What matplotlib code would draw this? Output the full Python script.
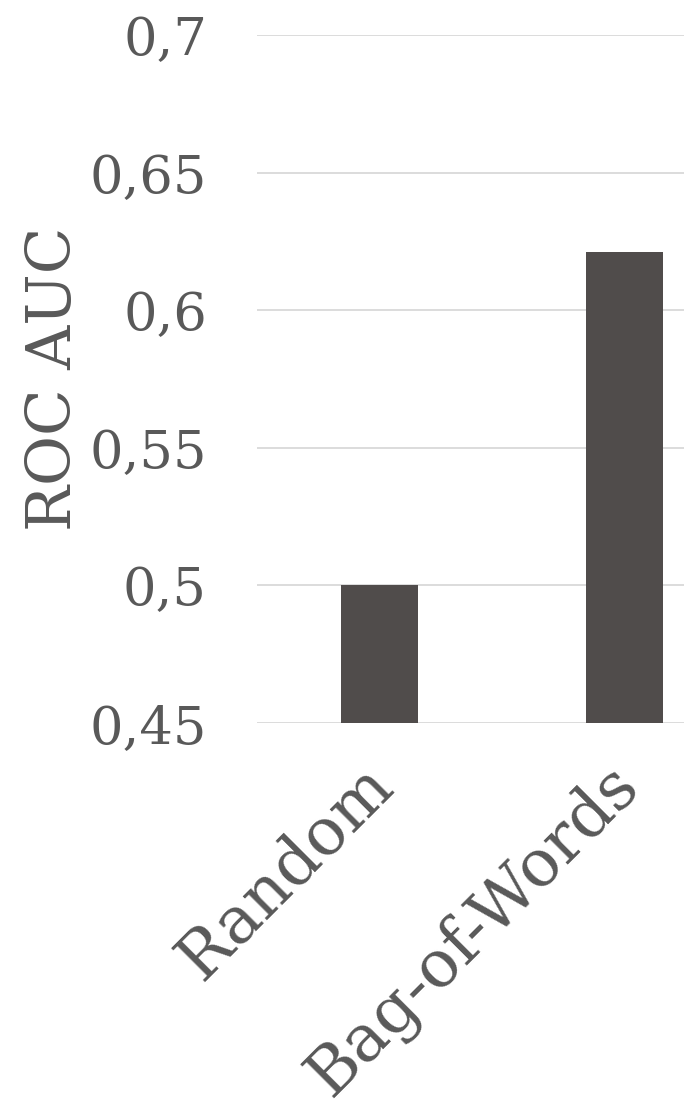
import matplotlib as mpl

mpl.use("Agg")
import matplotlib.pyplot as plt
from matplotlib.ticker import FuncFormatter
from matplotlib.transforms import ScaledTranslation

models = ["Random", "Bag-of-Words"]
roc_auc = [0.5, 0.621]
y_ticks = [0.45, 0.5, 0.55, 0.6, 0.65, 0.7]

BAR = "#504c4b"
INK = "#595959"
GRID = "#d9d9d9"

plt.rcParams.update({"font.family": "DejaVu Serif"})

fig = plt.figure(figsize=(6.84, 11), dpi=100, facecolor="white")
ax = fig.add_axes([0.3757, 0.3427, 0.6243, 0.6255])

x = list(range(len(models)))
ax.bar(x, roc_auc, width=0.313, color=BAR, zorder=3)

ax.set_ylim(0.45, 0.7)
ax.set_xlim(-0.5, 1.243)
ax.set_yticks(y_ticks)
ax.yaxis.set_major_formatter(FuncFormatter(lambda v, _: f"{v:g}".replace(".", ",")))
ax.grid(axis="y", color=GRID, lw=1.3, zorder=0)
ax.set_axisbelow(True)

for sp in ax.spines.values():
    sp.set_visible(False)
ax.tick_params(axis="both", length=0, colors=INK)
ax.tick_params(axis="y", labelsize=38, pad=36)

ax.set_xticks(x)
ax.set_xticklabels(models, rotation=45, ha="right", rotation_mode="anchor", fontsize=47)
ax.tick_params(axis="x", pad=18)
# nudge the slanted category labels so they end just right of each bar centre
shift = ScaledTranslation(-0.19, -0.05, fig.dpi_scale_trans)
for lbl in ax.get_xticklabels():
    lbl.set_transform(lbl.get_transform() + shift)

ax.set_ylabel("ROC AUC", fontsize=44, color=INK, labelpad=4)

fig.savefig("out.png", dpi=100, facecolor="white")
